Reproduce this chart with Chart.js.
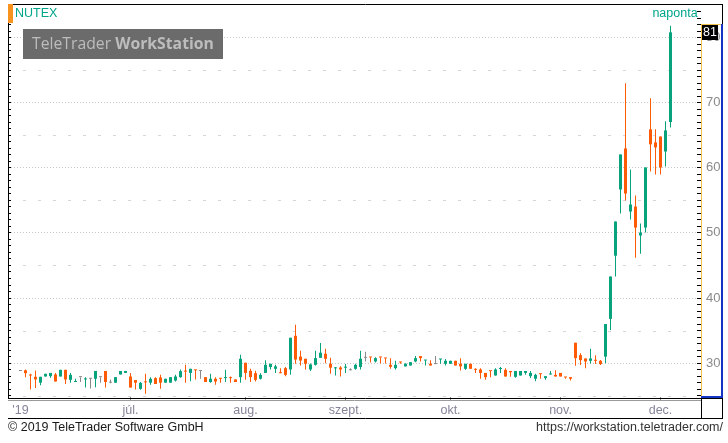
<!DOCTYPE html>
<html>
<head>
<meta charset="utf-8">
<script src="https://cdn.jsdelivr.net/npm/chart.js@4.4.1/dist/chart.umd.min.js"></script>
<style>
  html, body { margin: 0; padding: 0; background: #fff; }
  #wrap { width: 728px; height: 443px; }
</style>
</head>
<body>
<div id="wrap"><canvas id="grafico" width="728" height="443"></canvas></div>
<script>
// NUTEX napi gyertyák (nyitó, max, min, záró)
const opens = [
  28.8, 28.9, 28.2, 27.9, 27.0, 27.95, 28.0, 28.26, 27.95, 28.97,
  27.44, 27.1, 27.85, 27.5, 27.6, 27.6, 27.85, 28.8, 27.0, 27.0,
  28.26, 28.5, 27.95, 27.4, 26.05, 27.15, 27.0, 27.7, 27.8, 27.0,
  27.0, 27.33, 27.85, 28.8, 28.5, 28.97, 28.8, 27.85, 27.1, 27.6,
  27.7, 27.7, 27.75, 27.5, 27.85, 30.05, 28.82, 28.46, 27.6, 28.5,
  29.4, 29.13, 28.5, 29.23, 29.03, 34.2, 31.0, 30.67, 29.03, 29.74,
  30.82, 31.44, 29.9, 29.2, 29.33, 29.3, 28.9, 29.13, 29.4, 30.82,
  30.92, 30.26, 30.92, 30.77, 29.74, 29.23, 30.2, 29.5, 29.64, 30.26,
  31.08, 30.4, 29.9, 29.85, 30.56, 29.9, 29.9, 30.36, 29.9, 29.13,
  29.9, 29.03, 29.03, 28.5, 28.8, 28.1, 29.1, 28.97, 28.8, 27.9,
  28.1, 28.5, 28.0, 27.6, 28.36, 27.7, 28.26, 28.2, 28.5, 27.85,
  27.85, 33.13, 31.23, 30.72, 30.36, 30.4, 30.36, 31.0, 36.8, 46.5,
  56.67, 62.97, 53.28, 54.05, 49.6, 50.82, 65.9, 63.9, 64.8, 62.5,
  67.03
];
const highs = [
  28.8, 29.03, 28.36, 28.87, 27.9, 28.36, 28.5, 28.5, 28.97, 28.97,
  28.5, 27.6, 27.85, 27.85, 27.7, 28.8, 27.85, 28.8, 27.5, 27.85,
  28.8, 28.8, 28.5, 27.4, 27.1, 28.36, 27.85, 27.85, 28.2, 27.6,
  27.85, 28.2, 29.03, 29.74, 29.13, 28.97, 28.8, 27.85, 28.36, 27.85,
  27.7, 28.97, 27.95, 27.5, 31.28, 30.05, 29.13, 28.82, 28.46, 30.46,
  29.9, 29.74, 29.23, 29.4, 33.9, 35.9, 31.9, 30.67, 29.95, 31.9,
  33.1, 32.2, 30.82, 29.4, 29.54, 29.85, 29.23, 29.9, 31.9, 31.74,
  30.92, 30.92, 30.92, 30.77, 30.77, 30.36, 30.2, 30.0, 30.15, 31.08,
  31.08, 30.46, 30.46, 31.08, 30.62, 30.62, 30.36, 30.36, 30.77, 29.9,
  29.9, 29.23, 29.23, 28.5, 28.8, 29.23, 29.4, 29.23, 28.8, 28.8,
  28.8, 28.8, 28.8, 28.36, 28.36, 28.0, 28.8, 28.92, 28.5, 27.85,
  27.85, 33.13, 31.5, 30.72, 32.2, 31.23, 30.5, 36.0, 43.3, 51.75,
  62.05, 72.97, 59.74, 55.74, 51.44, 60.05, 70.67, 65.9, 64.8, 67.13,
  81.8
];
const lows = [
  28.8, 27.85, 25.95, 26.2, 26.6, 27.95, 27.75, 27.18, 27.95, 26.8,
  27.0, 27.1, 27.1, 26.25, 26.1, 26.3, 27.0, 26.25, 26.9, 27.0,
  28.26, 28.5, 26.25, 25.95, 25.9, 25.3, 26.7, 26.8, 26.05, 27.0,
  27.0, 27.18, 27.75, 26.97, 27.2, 27.5, 27.6, 27.1, 27.0, 26.67,
  27.0, 27.1, 27.0, 27.1, 27.0, 27.44, 27.1, 27.18, 27.5, 28.5,
  29.03, 28.5, 28.46, 28.0, 28.2, 29.9, 29.64, 29.03, 28.8, 29.64,
  30.82, 30.0, 28.36, 28.1, 27.95, 28.5, 28.9, 28.97, 29.03, 30.26,
  30.1, 30.1, 29.95, 29.95, 29.13, 29.03, 29.9, 29.5, 29.64, 30.15,
  30.26, 29.64, 29.64, 29.85, 29.9, 29.64, 29.9, 29.64, 28.87, 28.97,
  29.13, 28.5, 27.6, 27.44, 27.85, 28.1, 28.5, 27.95, 27.9, 27.75,
  28.1, 28.2, 27.7, 27.2, 27.6, 27.44, 28.26, 27.95, 27.95, 27.6,
  27.33, 29.6, 29.7, 29.2, 29.95, 29.85, 29.7, 30.0, 35.1, 43.3,
  52.97, 54.97, 52.05, 46.2, 46.8, 50.05, 59.44, 58.97, 58.97, 60.2,
  66.2
];
const closes = [
  28.8, 28.46, 28.1, 27.5, 27.9, 28.36, 28.5, 27.18, 28.97, 27.5,
  28.2, 27.2, 27.85, 27.6, 27.6, 28.8, 27.85, 27.1, 27.0, 27.85,
  28.8, 28.8, 26.25, 27.0, 26.97, 27.05, 27.6, 26.8, 27.0, 27.6,
  27.85, 27.95, 28.77, 28.7, 29.13, 28.9, 28.8, 27.1, 27.6, 27.18,
  27.6, 27.75, 27.7, 27.1, 30.67, 28.5, 27.85, 27.44, 28.2, 29.74,
  29.9, 29.5, 28.46, 28.2, 33.9, 30.56, 30.4, 29.9, 29.8, 30.77,
  31.6, 30.67, 29.3, 29.3, 29.03, 29.4, 28.9, 29.74, 30.67, 30.82,
  30.87, 30.77, 30.87, 30.72, 29.44, 29.74, 30.1, 29.9, 30.15, 30.77,
  30.77, 30.46, 29.64, 29.85, 30.62, 30.36, 30.36, 29.64, 29.5, 29.9,
  29.13, 28.97, 28.5, 27.85, 28.77, 29.03, 29.13, 27.95, 28.6, 28.8,
  28.8, 28.8, 28.5, 28.2, 28.3, 28.0, 28.3, 27.95, 27.95, 27.8,
  27.6, 30.77, 30.46, 30.26, 30.72, 30.36, 29.85, 36.0, 43.3, 51.75,
  62.05, 56.05, 54.36, 50.82, 50.05, 60.05, 63.6, 63.13, 60.05, 65.74,
  80.8
];

// hónapok a tengelyen (kereskedési nap sorszáma)
const monthIdx = [0, 22, 45, 65, 86, 108, 128];
const monthNames = ["'19", "júl.", "aug.", "szept.", "okt.", "nov.", "dec."];
// szaggatott segédvonalak
const halfLines = [25, 35, 45, 55, 65, 75];

const verde = '#06a37d';
const naranja = '#ff5a05';
const gris = '#8a8a8a';

const colores = closes.map((c, i) => c > opens[i] ? verde : (c < opens[i] ? naranja : gris));
const mechas = lows.map((l, i) => ({ x: i, y: [l, highs[i]] }));
const cuerpos = opens.map((o, i) => ({ x: i, y: [o, closes[i]] }));

const egeszek = [];
for (let v = 25; v <= 84; v++) egeszek.push({ value: v });

const marco = {
  id: 'marco',
  beforeDatasetsDraw(chart) {
    const { ctx, chartArea: a, scales: { y } } = chart;
    ctx.save();
    ctx.strokeStyle = '#d6d6d6';
    ctx.lineWidth = 1;
    ctx.setLineDash([3, 12]);
    ctx.lineDashOffset = 3;
    halfLines.forEach(v => {
      const py = Math.round(y.getPixelForValue(v)) + 0.5;
      ctx.beginPath();
      ctx.moveTo(a.left, py);
      ctx.lineTo(a.right, py);
      ctx.stroke();
    });
    ctx.restore();
  },
  afterDraw(chart) {
    const { ctx, scales: { y } } = chart;
    ctx.save();
    const linea = (x1, y1, x2, y2, color, w) => {
      ctx.strokeStyle = color;
      ctx.lineWidth = w || 1;
      ctx.beginPath();
      ctx.moveTo(x1, y1);
      ctx.lineTo(x2, y2);
      ctx.stroke();
    };
    // keret
    linea(8, 4.5, 723, 4.5, '#000');
    linea(8.5, 4, 8.5, 399, '#000');
    linea(722.5, 4, 722.5, 419, '#000');
    linea(8, 398.5, 723, 398.5, '#000');
    linea(8, 400.5, 701, 400.5, '#9a9a9a');
    linea(701.5, 398, 701.5, 419, '#000');
    linea(8, 418.5, 723, 418.5, '#000');
    // jobb oldali ártengely doboza
    linea(701.5, 24, 701.5, 397, '#f2c14e');
    linea(701, 24.5, 722, 24.5, '#f2c14e');
    linea(722, 24, 722, 398, '#1534c4', 2);
    linea(701, 397, 723, 397, '#1534c4', 2);

    // narancs jelölő
    ctx.fillStyle = '#f7931e';
    ctx.fillRect(8, 4, 5, 19);

    ctx.textBaseline = 'middle';
    ctx.font = '12.5px "Liberation Sans", Arial, sans-serif';
    ctx.fillStyle = '#00a58a';
    ctx.textAlign = 'left';
    ctx.fillText('NUTEX', 15, 14);
    ctx.textAlign = 'center';
    ctx.fillText('naponta', 675, 14);

    // vízjel
    ctx.fillStyle = '#6b6b6b';
    ctx.fillRect(23, 29, 200, 30);
    let fs = 20;
    const t1 = 'TeleTrader ', t2 = 'WorkStation';
    const ancho = s => {
      ctx.font = s + 'px "Open Sans", sans-serif';
      const w1 = ctx.measureText(t1).width;
      ctx.font = 'bold ' + s + 'px "Open Sans", sans-serif';
      return w1 + ctx.measureText(t2).width;
    };
    while (ancho(fs) > 182 && fs > 10) fs -= 0.25;
    ctx.textAlign = 'left';
    ctx.fillStyle = '#bdbdbd';
    ctx.font = fs + 'px "Open Sans", sans-serif';
    const w1 = ctx.measureText(t1).width;
    ctx.fillText(t1, 32, 45);
    ctx.font = 'bold ' + fs + 'px "Open Sans", sans-serif';
    ctx.fillText(t2, 32 + w1, 45);

    // utolsó ár
    const ultimo = closes[closes.length - 1];
    const py = y.getPixelForValue(ultimo);
    ctx.fillStyle = '#000';
    ctx.fillRect(702, Math.round(py) - 7, 16, 15);
    ctx.fillStyle = '#fff';
    ctx.font = '12.5px "Liberation Sans", Arial, sans-serif';
    ctx.textAlign = 'center';
    ctx.fillText(String(Math.round(ultimo)), 710, Math.round(py) + 1);

    // lábléc
    ctx.fillStyle = '#1a1a1a';
    ctx.font = '12.5px "Liberation Sans", Arial, sans-serif';
    ctx.textAlign = 'left';
    ctx.fillText('© 2019 TeleTrader Software GmbH', 8, 428);
    ctx.textAlign = 'right';
    ctx.fillStyle = '#333';
    ctx.fillText('https://workstation.teletrader.com/', 723, 428);
    ctx.restore();
  }
};

new Chart(document.getElementById('grafico'), {
  type: 'bar',
  data: {
    datasets: [
      {
        data: mechas,
        backgroundColor: colores,
        barThickness: 1,
        grouped: false,
        inflateAmount: 0,
        order: 2
      },
      {
        data: cuerpos,
        backgroundColor: colores,
        barThickness: 3,
        grouped: false,
        minBarLength: 1,
        inflateAmount: 0,
        order: 1
      }
    ]
  },
  options: {
    responsive: false,
    animation: false,
    devicePixelRatio: 1,
    layout: { padding: { left: 8, right: 6, top: 5, bottom: 25 } },
    plugins: {
      legend: { display: false },
      tooltip: { enabled: false }
    },
    scales: {
      x: {
        type: 'linear',
        offset: false,
        min: -1.9,
        max: 135.3,
        afterBuildTicks: s => { s.ticks = monthIdx.map(v => ({ value: v })); },
        afterFit: s => { s.height = 21; s.paddingLeft = 0; s.paddingRight = 0; },
        ticks: {
          autoSkip: false,
          maxRotation: 0,
          padding: 3,
          color: '#85859a',
          font: { family: '"Liberation Sans", Arial, sans-serif', size: 12.5 },
          callback: v => monthNames[monthIdx.indexOf(v)]
        },
        grid: {
          drawOnChartArea: false,
          offset: false,
          tickLength: 3,
          tickColor: c => c.index === 0 ? 'rgba(0,0,0,0)' : '#8a8a8a'
        },
        border: { display: false }
      },
      y: {
        position: 'right',
        min: 24.8,
        max: 85,
        afterBuildTicks: s => { s.ticks = egeszek.map(t => ({ value: t.value })); },
        afterFit: s => { s.width = 25; s.paddingTop = 0; s.paddingBottom = 0; },
        ticks: {
          autoSkip: false,
          padding: 5,
          color: '#8a8a8a',
          font: { family: '"Liberation Sans", Arial, sans-serif', size: 13 },
          callback: v => v % 10 === 0 ? String(v) : ''
        },
        grid: {
          color: c => (c.tick && c.tick.value % 10 === 0) ? '#c6c6c6' : 'rgba(0,0,0,0)',
          tickLength: 4,
          tickColor: '#000'
        },
        border: { display: false, dash: [1, 2] }
      },
      yl: {
        position: 'left',
        min: 24.8,
        max: 85,
        afterBuildTicks: s => { s.ticks = egeszek.map(t => ({ value: t.value })); },
        afterFit: s => { s.width = 3; s.paddingTop = 0; s.paddingBottom = 0; },
        ticks: { display: false },
        grid: { drawOnChartArea: false, tickLength: 3, tickColor: '#000' },
        border: { display: false }
      }
    }
  },
  plugins: [marco]
});
</script>
</body>
</html>
